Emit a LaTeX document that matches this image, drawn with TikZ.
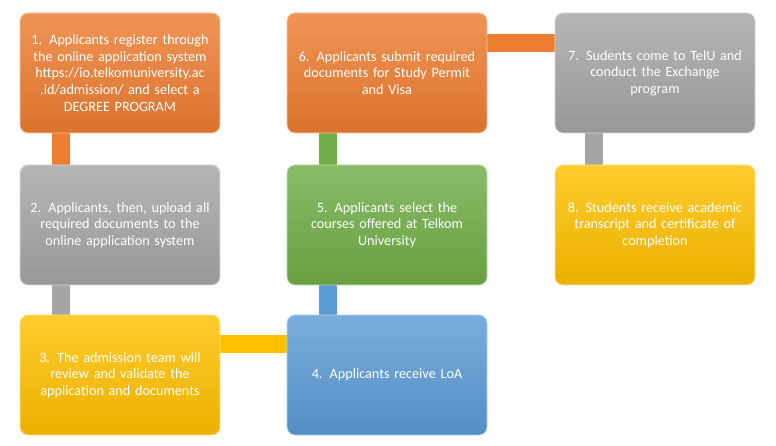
\documentclass[tikz,border=0pt]{standalone}
\usepackage{fontspec}
\setmainfont{Carlito}
\usepackage{tikz}
\usetikzlibrary{backgrounds}
\usepackage{xcolor}
\definecolor{stepOrange}{HTML}{ED7D31}
\definecolor{stepGray}{HTML}{A5A5A5}
\definecolor{stepYellow}{HTML}{FFC000}
\definecolor{stepBlue}{HTML}{5B9BD5}
\definecolor{stepGreen}{HTML}{70AD47}

\begin{document}
\begin{tikzpicture}[x=1pt,y=-1pt,
    stepbox/.style={rectangle, rounded corners=8pt, minimum width=200pt, minimum height=120pt,
        inner sep=0pt, text width=198pt, align=center, text=white,
        font=\fontsize{14.2}{16.7}\selectfont,
        top color=#1!82!white, bottom color=#1!92!black, draw=#1!45!white, line width=0.8pt},
    bar/.style={line width=18pt, draw=#1}]
                \useasboundingbox (0,0) rectangle (776,446);
                % first column
                \node[stepbox=stepOrange] (s1) at (120,73) {1. Applicants register through\\the online application system\\https://io.telkomuniversity.ac\\.id/admission/ and select a\\DEGREE PROGRAM};
                \node[stepbox=stepGray] (s2) at (120,225) {2. Applicants, then, upload all\\required documents to the\\online application system};
                \node[stepbox=stepYellow] (s3) at (120,375) {3. The admission team will\\review and validate the\\application and documents};
                % second column
                \node[stepbox=stepBlue] (s4) at (387,375) {4. Applicants receive LoA};
                \node[stepbox=stepGreen] (s5) at (387,225) {5. Applicants select the\\courses offered at Telkom\\University};
                \node[stepbox=stepOrange] (s6) at (387,73) {6. Applicants submit required\\documents for Study Permit\\and Visa};
                % third column
                \node[stepbox=stepGray] (s7) at (655,73) {7. Sudents come to TelU and\\conduct the Exchange\\program};
                \node[stepbox=stepYellow] (s8) at (655,225) {8. Students receive academic\\transcript and certificate of\\completion};
                \begin{scope}[on background layer]
                \draw[bar=stepOrange] ([xshift=41pt]s1.south west) -- ([xshift=41pt]s2.north west);
                \draw[bar=stepGray] ([xshift=41pt]s2.south west) -- ([xshift=41pt]s3.north west);
                \draw[bar=stepYellow] ([yshift=-29pt]s3.north east) -- ([yshift=-29pt]s4.north west);
                \draw[bar=stepBlue] ([xshift=41pt]s4.north west) -- ([xshift=41pt]s5.south west);
                \draw[bar=stepGreen] ([xshift=41pt]s5.north west) -- ([xshift=41pt]s6.south west);
                \draw[bar=stepOrange] ([yshift=-30pt]s6.north east) -- ([yshift=-30pt]s7.north west);
                \draw[bar=stepGray] ([xshift=39pt]s7.south west) -- ([xshift=39pt]s8.north west);
                \end{scope}
            \end{tikzpicture}
\end{document}
